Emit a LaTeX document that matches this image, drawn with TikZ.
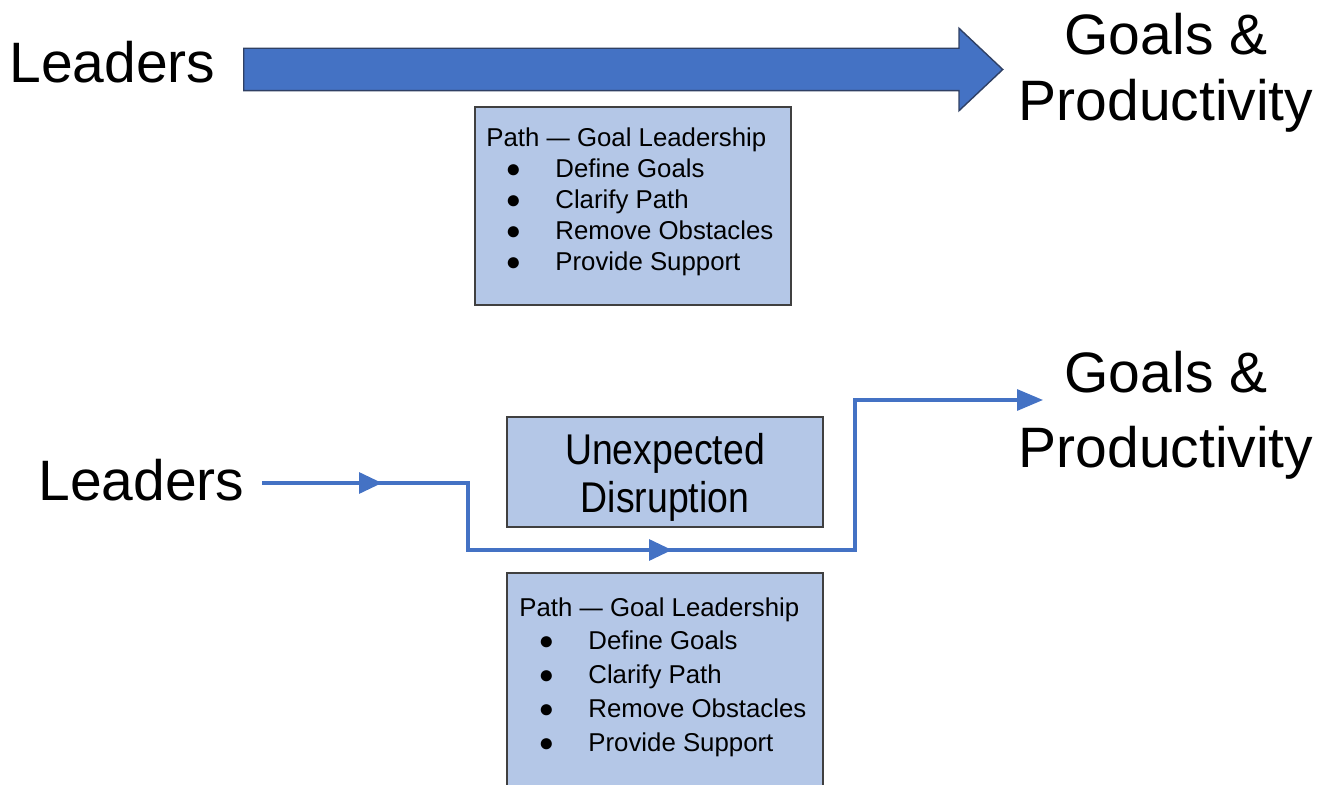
\documentclass[tikz,border=0pt]{standalone}
\usepackage{fontspec}
\setmainfont{Liberation Sans}
\newfontfamily\narrowsans[FakeStretch=0.87]{Liberation Sans}
\usepackage{tikz}
\usetikzlibrary{arrows.meta,positioning,shapes.arrows,decorations.markings}

\definecolor{flowblue}{RGB}{68,114,196}
\definecolor{flowedge}{RGB}{47,64,100}
\definecolor{boxfill}{RGB}{180,199,231}
\definecolor{boxedge}{RGB}{64,64,64}

\newcommand{\bulletmark}{●}
\newcommand{\pgdash}{\scalebox{0.9}[1]{—}}
\newcommand{\pgitem}[1]{\makebox[27pt]{\bulletmark}\hspace{7.5pt}#1}

\begin{document}
\begin{tikzpicture}[x=0.5pt,y=-0.5pt,
	bigtext/.style={font=\fontsize{28.5}{33}\selectfont,inner sep=0pt},
	pgbox/.style={draw=boxedge,line width=1pt,fill=boxfill,minimum width=158pt,inner sep=0pt},
	pgtext/.style={inner sep=0pt,align=left},
	bigarrow/.style={single arrow,draw=flowedge,line width=0.7pt,fill=flowblue,inner xsep=0pt,inner ysep=10.25pt,
		minimum height=379.5pt,single arrow head extend=10pt,single arrow tip angle=86.6},
	flow/.style={draw=flowblue,line width=1.6pt},
	midtip/.style={postaction={decorate},decoration={markings,
		mark=at position 60pt with {\arrow{Triangle[length=11.5pt,width=10.5pt]}},
		mark=at position 238.5pt with {\arrow{Triangle[length=11.5pt,width=10.5pt]}}}}]
	\useasboundingbox (0,0) rectangle (1327,785);

	% first picture
	\node[bigtext,anchor=base] (leaders1) at (112.5,83) {Leaders};
	\node[bigarrow,anchor=west] (push1) at (243,69.5) {};
	\node[bigtext,align=center] (goals1) at (1166,73) {Goals \&\\Productivity};
	\node[pgbox,minimum height=99pt,anchor=north west] (path1box) at (474,106) {};
	\node[pgtext,anchor=north west,font=\fontsize{12.9}{15.6}\selectfont] (path1text) at (486,127)
		{Path \pgdash{} Goal Leadership\\ \pgitem{Define Goals}\\ \pgitem{Clarify Path}\\
		 \pgitem{Remove Obstacles}\\ \pgitem{Provide Support}};

	% second picture
	\node[bigtext,anchor=base] (leaders2) at (141.5,501) {Leaders};
	\node[bigtext,align=center,font=\fontsize{28.5}{37.5}\selectfont] (goals2) at (1166,415) {Goals \&\\Productivity};
	\node[pgbox,minimum height=55pt,anchor=north west] (disrupt) at (506,416) {};
	\node[align=center,inner sep=0pt,font=\narrowsans\fontsize{21.5}{24}\selectfont] (disrupttext)
		at ([yshift=-2.5pt]disrupt.center) {Unexpected\\Disruption};
	\node[pgbox,minimum height=114pt,anchor=north west] (path2box) at (506,572) {};
	\node[pgtext,anchor=north west,font=\fontsize{12.9}{16.9}\selectfont] (path2text) at (519,597)
		{Path \pgdash{} Goal Leadership\\ \pgitem{Define Goals}\\ \pgitem{Clarify Path}\\
		 \pgitem{Remove Obstacles}\\ \pgitem{Provide Support}};

	\coordinate (lead2out) at (262,483);
	\coordinate (goal2in) at (1043,400);
	\draw[flow,midtip,-{Triangle[length=13pt,width=10.5pt]}] (lead2out) -| (468,550) -| (855,400) -- (goal2in);
\end{tikzpicture}
\end{document}
